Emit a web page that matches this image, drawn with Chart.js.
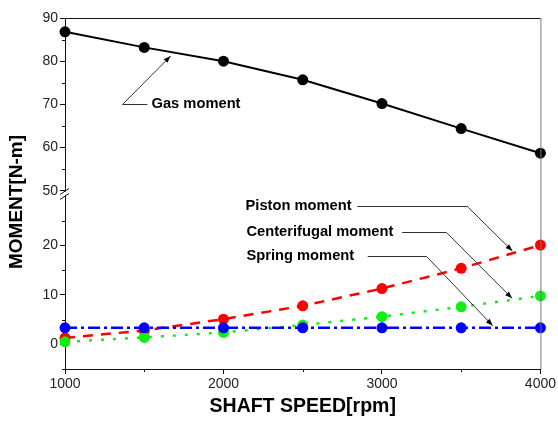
<!DOCTYPE html>
<html>
<head>
<meta charset="utf-8">
<script src="https://cdn.jsdelivr.net/npm/chart.js@4"></script>
<style>
  html, body { margin: 0; padding: 0; background: #fff; }
  #wrap { width: 558px; height: 424px; }
</style>
</head>
<body>
<div id="wrap"><canvas id="c" width="558" height="424"></canvas></div>
<script>
// ---- data ----
const speeds = [1000, 1500, 2000, 2500, 3000, 3500, 4000];
const gasMoment = [86.8, 83.2, 80.0, 75.7, 70.2, 64.4, 58.7];
const pistonMoment = [1.3, 2.8, 5.1, 7.8, 11.3, 15.4, 20.1];
const centrifugalMoment = [0.5, 1.4, 2.4, 3.9, 5.6, 7.6, 9.8];
const springMoment = [3.35, 3.35, 3.35, 3.35, 3.35, 3.35, 3.35];

const xMajorTicks = [1000, 2000, 3000, 4000];
const xMinorTicks = [1500, 2500, 3500];
const upperMajorTicks = [50, 60, 70, 80, 90];
const upperMinorTicks = [55, 65, 75, 85];
const lowerMajorTicks = [0, 10, 20];
const lowerMinorTicks = [-5, 5, 15, 25];

const xTitle = 'SHAFT SPEED[rpm]';
const yTitle = 'MOMENT[N-m]';

// annotation labels: text anchor, elbow start, elbow end, arrow tip (data coords)
const annotations = [
  { text: 'Gas moment', axis: 'yUp', tx: 1546, ty: 70.1, lx1: 1520, lx2: 1363, ly: 70.1, ax: 1666, ay: 81.2 },
  { text: 'Piston moment', axis: 'yLow', tx: 2139, ty: 28.05, lx1: 2845, lx2: 3539, ly: 28.05, ax: 3823, ay: 18.9 },
  { text: 'Centerifugal moment', axis: 'yLow', tx: 2145, ty: 22.7, lx1: 3127, lx2: 3407, ly: 22.7, ax: 3821, ay: 9.33 },
  { text: 'Spring moment', axis: 'yLow', tx: 2145, ty: 17.8, lx1: 2910, lx2: 3282, ly: 17.8, ax: 3699, ay: 3.77 }
];

const FONT = "'Liberation Sans', Arial, sans-serif";
const pts = arr => speeds.map((s, i) => ({ x: s, y: arr[i] }));

const overlay = {
  id: 'overlay',
  afterDraw(chart) {
    const ctx = chart.ctx;
    const xs = chart.scales.x, yu = chart.scales.yUp, yl = chart.scales.yLow;
    const a = chart.chartArea;
    ctx.save();
    // frame: top and right
    ctx.lineWidth = 1;
    ctx.strokeStyle = '#111';
    ctx.beginPath(); ctx.moveTo(a.left, a.top + 0.5); ctx.lineTo(a.right, a.top + 0.5); ctx.stroke();
    ctx.strokeStyle = '#777';
    ctx.beginPath(); ctx.moveTo(a.right + 0.5, a.top); ctx.lineTo(a.right + 0.5, a.bottom); ctx.stroke();

    // minor ticks
    ctx.strokeStyle = '#111';
    ctx.beginPath();
    xMinorTicks.forEach(v => { const px = Math.round(xs.getPixelForValue(v)) + 0.5; ctx.moveTo(px, a.bottom); ctx.lineTo(px, a.bottom + 3); });
    upperMinorTicks.forEach(v => { const py = Math.round(yu.getPixelForValue(v)) + 0.5; ctx.moveTo(a.left - 3, py); ctx.lineTo(a.left, py); });
    lowerMinorTicks.forEach(v => { const py = Math.round(yl.getPixelForValue(v)) + 0.5; ctx.moveTo(a.left - 3, py); ctx.lineTo(a.left, py); });
    ctx.stroke();

    // axis break
    const by = yu.bottom;
    ctx.fillStyle = '#fff';
    ctx.fillRect(a.left - 2, by - 2, 4, 4);
    ctx.strokeStyle = '#111';
    ctx.lineWidth = 1;
    ctx.beginPath();
    ctx.moveTo(a.left - 5, by + 1); ctx.lineTo(a.left + 4, by - 5);
    ctx.moveTo(a.left - 5, by + 6); ctx.lineTo(a.left + 4, by);
    ctx.stroke();

    // axis titles
    ctx.fillStyle = '#000';
    ctx.font = "bold 19.5px " + FONT;
    ctx.textAlign = 'center';
    ctx.textBaseline = 'middle';
    ctx.fillText(xTitle, (a.left + a.right) / 2, 407);
    ctx.save();
    ctx.translate(17, 202);
    ctx.rotate(-Math.PI / 2);
    ctx.font = "bold 19px " + FONT;
    ctx.fillText(yTitle, 0, 0);
    ctx.restore();

    // annotations
    annotations.forEach(an => {
      const ys = chart.scales[an.axis];
      const tx = xs.getPixelForValue(an.tx), ty = ys.getPixelForValue(an.ty);
      const x1 = xs.getPixelForValue(an.lx1), x2 = xs.getPixelForValue(an.lx2), ly = Math.round(ys.getPixelForValue(an.ly)) + 0.5;
      const ax = xs.getPixelForValue(an.ax), ay = ys.getPixelForValue(an.ay);
      ctx.font = "bold 14.7px " + FONT;
      ctx.textAlign = 'left';
      ctx.textBaseline = 'middle';
      ctx.fillStyle = '#000';
      ctx.fillText(an.text, tx, ty);
      ctx.strokeStyle = '#333';
      ctx.lineWidth = 1;
      ctx.beginPath();
      ctx.moveTo(x1, ly); ctx.lineTo(x2, ly); ctx.lineTo(ax, ay);
      ctx.stroke();
      // arrowhead
      const ang = Math.atan2(ay - ly, ax - x2);
      const L = 7, W = 2.6;
      ctx.fillStyle = '#000';
      ctx.beginPath();
      ctx.moveTo(ax, ay);
      ctx.lineTo(ax - L * Math.cos(ang) + W * Math.sin(ang), ay - L * Math.sin(ang) - W * Math.cos(ang));
      ctx.lineTo(ax - L * Math.cos(ang) - W * Math.sin(ang), ay - L * Math.sin(ang) + W * Math.cos(ang));
      ctx.closePath();
      ctx.fill();
    });
    ctx.restore();
  }
};

const tickFont = { family: FONT, size: 14 };
const yCommon = {
  type: 'linear',
  position: 'left',
  stack: 'moment',
  stackWeight: 1,
  grid: { display: true, drawOnChartArea: false, drawTicks: true, tickLength: 5, tickColor: '#111' },
  border: { display: true, color: '#111', width: 1 },
  ticks: { font: tickFont, color: '#222', padding: 2, callback: v => String(v) },
  afterFit(s) { s.width = 65; }
};

new Chart(document.getElementById('c'), {
  type: 'line',
  data: {
    datasets: [
      { label: 'Spring moment', data: pts(springMoment), yAxisID: 'yLow', borderColor: '#0000ff', backgroundColor: '#0000ff',
        borderWidth: 2.5, borderDash: [12, 4, 3, 4], pointRadius: 5.5, pointBorderWidth: 0, tension: 0 },
      { label: 'Centerifugal moment', data: pts(centrifugalMoment), yAxisID: 'yLow', borderColor: '#11ee11', backgroundColor: '#11ee11',
        borderWidth: 2.5, borderDash: [3, 9], pointRadius: 5.5, pointBorderWidth: 0, tension: 0 },
      { label: 'Piston moment', data: pts(pistonMoment), yAxisID: 'yLow', borderColor: '#ff0000', backgroundColor: '#ff0000',
        borderWidth: 2.5, borderDash: [10, 8], pointRadius: 5.5, pointBorderWidth: 0, tension: 0 },
      { label: 'Gas moment', data: pts(gasMoment), yAxisID: 'yUp', borderColor: '#000', backgroundColor: '#000',
        borderWidth: 2, pointRadius: 5.5, pointBorderWidth: 0, tension: 0 }
    ]
  },
  options: {
    responsive: false,
    animation: false,
    clip: false,
    layout: { padding: { left: 0, right: 17, top: 18, bottom: 0 } },
    plugins: { legend: { display: false }, tooltip: { enabled: false }, title: { display: false } },
    scales: {
      x: {
        type: 'linear', min: 1000, max: 4000,
        grid: { display: true, drawOnChartArea: false, drawTicks: true, tickLength: 5, tickColor: '#111' },
        border: { display: true, color: '#111', width: 1 },
        ticks: { font: tickFont, color: '#222', padding: 2, maxRotation: 0, callback: v => String(v) },
        afterBuildTicks(s) { s.ticks = xMajorTicks.map(v => ({ value: v })); },
        afterFit(s) { s.height = 55; }
      },
      yLow: Object.assign({}, yCommon, {
        min: -5, max: 30.55,
        afterBuildTicks(s) { s.ticks = lowerMajorTicks.map(v => ({ value: v })); }
      }),
      yUp: Object.assign({}, yCommon, {
        min: 49.38, max: 90,
        afterBuildTicks(s) { s.ticks = upperMajorTicks.map(v => ({ value: v })); }
      })
    }
  },
  plugins: [overlay]
});
</script>
</body>
</html>
